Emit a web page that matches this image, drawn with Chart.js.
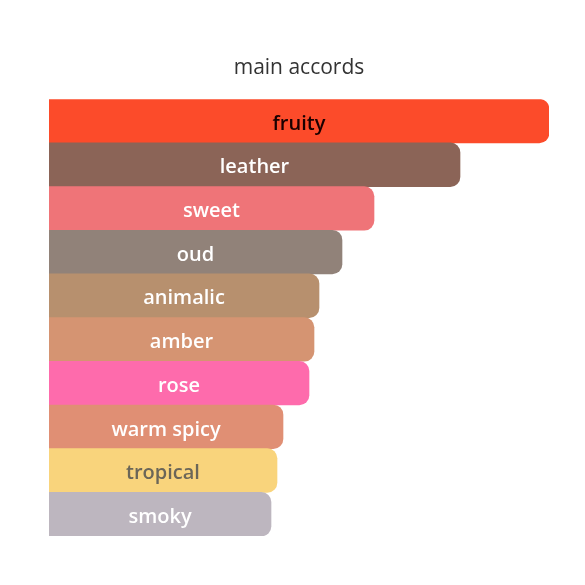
<!DOCTYPE html>
<html>
<head>
<meta charset="utf-8">
<script src="https://cdn.jsdelivr.net/npm/chart.js@4/dist/chart.umd.min.js"></script>
<style>
html,body{margin:0;padding:0;background:#fff;}
#wrap{width:585px;height:585px;position:relative;}
</style>
</head>
<body>
<div id="wrap"><canvas id="c"></canvas></div>
<script>
const categories = ["fruity","leather","sweet","oud","animalic","amber","rose","warm spicy","tropical","smoky"];
const values = [100, 82.2, 65, 58.6, 54, 53, 52, 46.8, 45.6, 44.4];
const barColors = ["#FC4B2A","#8B6457","#EF7478","#918279","#B7906E","#D59472","#FE6BAC","#E08F74","#F9D47C","#BDB6BF"];
const labelColors = ["#1a0000","#ffffff","#ffffff","#ffffff","#ffffff","#ffffff","#ffffff","#ffffff","#6b6658","#ffffff"];

const labelPlugin = {
  id: 'inBarLabels',
  afterDatasetsDraw(chart) {
    const ctx = chart.ctx;
    const meta = chart.getDatasetMeta(0);
    ctx.save();
    ctx.font = '600 20px "Open Sans", "Noto Sans", sans-serif';
    ctx.textAlign = 'center';
    ctx.textBaseline = 'middle';
    meta.data.forEach((bar, i) => {
      const p = bar.getProps(['x','y','base'], true);
      ctx.fillStyle = labelColors[i];
      ctx.fillText(categories[i], (p.x + p.base) / 2, p.y + 3);
    });
    ctx.restore();
  }
};

new Chart(document.getElementById('c'), {
  type: 'bar',
  data: {
    labels: categories,
    datasets: [{
      data: values,
      backgroundColor: barColors,
      borderWidth: 0,
      borderRadius: {topLeft:0, bottomLeft:0, topRight:10, bottomRight:10},
      borderSkipped: false,
      barPercentage: 1,
      categoryPercentage: 1
    }]
  },
  options: {
    indexAxis: 'y',
    responsive: true,
    maintainAspectRatio: false,
    animation: false,
    layout: { padding: { left: 49, right: 36, top: 55, bottom: 49 } },
    scales: {
      x: { display: false, min: 0, max: 100 },
      y: { display: false }
    },
    plugins: {
      legend: { display: false },
      tooltip: { enabled: false },
      title: {
        display: true,
        text: 'main accords',
        color: '#333333',
        font: { family: '"Open Sans", "Noto Sans", sans-serif', size: 21, weight: 'normal' },
        padding: { top: 0, bottom: 19 }
      }
    }
  },
  plugins: [labelPlugin]
});
</script>
</body>
</html>
